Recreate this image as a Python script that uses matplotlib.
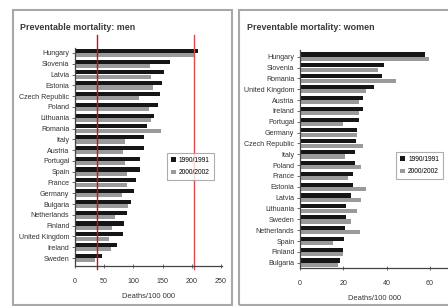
import matplotlib
import numpy as np
from matplotlib import font_manager

matplotlib.use("Agg")
import matplotlib.pyplot as plt
from matplotlib.patches import Rectangle


men_countries = [
    "Hungary", "Slovenia", "Latvia", "Estonia", "Czech Republic", "Poland",
    "Lithuania", "Romania", "Italy", "Austria", "Portugal", "Spain", "France",
    "Germany", "Bulgaria", "Netherlands", "Finland", "United Kingdom",
    "Ireland", "Sweden",
]
men_1990 = [210, 162, 152, 149, 145, 142, 136, 123, 118, 118, 111, 111, 105,
            101, 96, 89, 84, 83, 72, 47]
men_2000 = [204, 128, 131, 134, 109, 126, 131, 148, 86, 83, 86, 89, 89,
            81, 91, 69, 64, 58, 61, 35]

women_countries = [
    "Hungary", "Slovenia", "Romania", "United Kingdom", "Austria", "Ireland",
    "Portugal", "Germany", "Czech Republic", "Italy", "Poland", "France",
    "Estonia", "Latvia", "Lithuania", "Sweden", "Netherlands", "Spain",
    "Finland", "Bulgaria",
]
women_1990 = [57.7, 38.9, 37.7, 34.2, 29.2, 28.9, 27.0, 26.5, 25.8, 25.4,
              25.4, 24.3, 24.3, 23.4, 21.2, 21.2, 20.8, 20.5, 19.7, 18.5]
women_2000 = [59.7, 36.0, 44.3, 30.5, 27.0, 27.0, 20.0, 26.2, 28.9, 20.8,
              28.0, 22.3, 30.5, 28.0, 26.2, 23.4, 27.7, 15.4, 19.7, 17.7]

period_labels = ["1990/1991", "2000/2002"]
men_ticks = [0, 50, 100, 150, 200, 250]
women_ticks = [0, 20, 40, 60]
marker_lines = [37, 204]

W, H = 448, 306
installed = {f.name for f in font_manager.fontManager.ttflist}
FONT = "Liberation Sans Narrow" if "Liberation Sans Narrow" in installed else "Liberation Sans"
plt.rcParams["font.family"] = [FONT, "DejaVu Sans"]

DARK = "#161616"
GRAY = "#9a9a9a"
TEXT = "#333333"


def px_rect(x0, y0, x1, y1):
    return [x0 / W, 1 - y1 / H, (x1 - x0) / W, (y1 - y0) / H]


def draw_panel(ax, countries, v1, v2, ticks, xlim, ylim, legend_anchor):
    y = np.arange(len(countries))
    ax.barh(y - 0.2, v1, height=0.38, color=DARK, label=period_labels[0])
    ax.barh(y + 0.2, v2, height=0.38, color=GRAY, label=period_labels[1])
    ax.set_ylim(*ylim)
    ax.set_xlim(*xlim)
    ax.set_yticks(y)
    ax.set_yticklabels(countries, fontsize=5.1, color=TEXT)
    ax.set_xticks(ticks)
    ax.set_xticklabels([str(t) for t in ticks], fontsize=5.1, color=TEXT)
    ax.tick_params(axis="y", length=2, pad=2, width=0.6, color="#555555")
    ax.tick_params(axis="x", length=3, pad=7, width=0.6, direction="inout", color="#555555")
    for side in ("top", "right"):
        ax.spines[side].set_visible(False)
    for side in ("left", "bottom"):
        ax.spines[side].set_color("#444444")
        ax.spines[side].set_linewidth(0.9)
    ax.set_xlabel("Deaths/100 000", fontsize=5.4, color=TEXT, labelpad=6)
    leg = ax.legend(loc="upper left", bbox_to_anchor=legend_anchor, fontsize=4.8,
                    frameon=True, fancybox=False, borderaxespad=0,
                    handlelength=0.7, handleheight=0.7, handletextpad=0.5,
                    borderpad=0.6, labelspacing=0.8)
    leg.get_frame().set_edgecolor("#999999")
    leg.get_frame().set_linewidth(0.8)


fig = plt.figure(figsize=(W / 100, H / 100), dpi=100)

# panel frames
fig.patches.append(Rectangle((13 / W, 1 - 305 / H), 219 / W, 295 / H,
                             transform=fig.transFigure, fill=False,
                             edgecolor="#a8a8a8", linewidth=1.5))
fig.patches.append(Rectangle((239 / W, 1 - 305 / H), 215 / W, 295 / H,
                             transform=fig.transFigure, fill=False,
                             edgecolor="#a8a8a8", linewidth=1.5))

fig.text(20 / W, 1 - 27 / H, "Preventable mortality: men", fontsize=6.4,
         fontweight="bold", color="#3a3a3a", va="center", ha="left")
fig.text(247 / W, 1 - 27 / H, "Preventable mortality: women", fontsize=6.4,
         fontweight="bold", color="#3a3a3a", va="center", ha="left")

ax_men = fig.add_axes(px_rect(75, 48, 222, 266))
draw_panel(ax_men, men_countries, men_1990, men_2000, men_ticks,
           (0, 252), (19.74, -0.46), (0.626, 0.518))

for xv, col in zip(marker_lines, ["#cc1010", "#e04848"]):
    ax_men.axvline(xv, ymin=-0.014, ymax=1.06, color=col, linewidth=1.0, clip_on=False)

ax_women = fig.add_axes(px_rect(300, 50, 448, 268))
draw_panel(ax_women, women_countries, women_1990, women_2000, women_ticks,
           (0, 68.3), (19.49, -0.62), (0.649, 0.532))

fig.savefig("out.png", dpi=100)
